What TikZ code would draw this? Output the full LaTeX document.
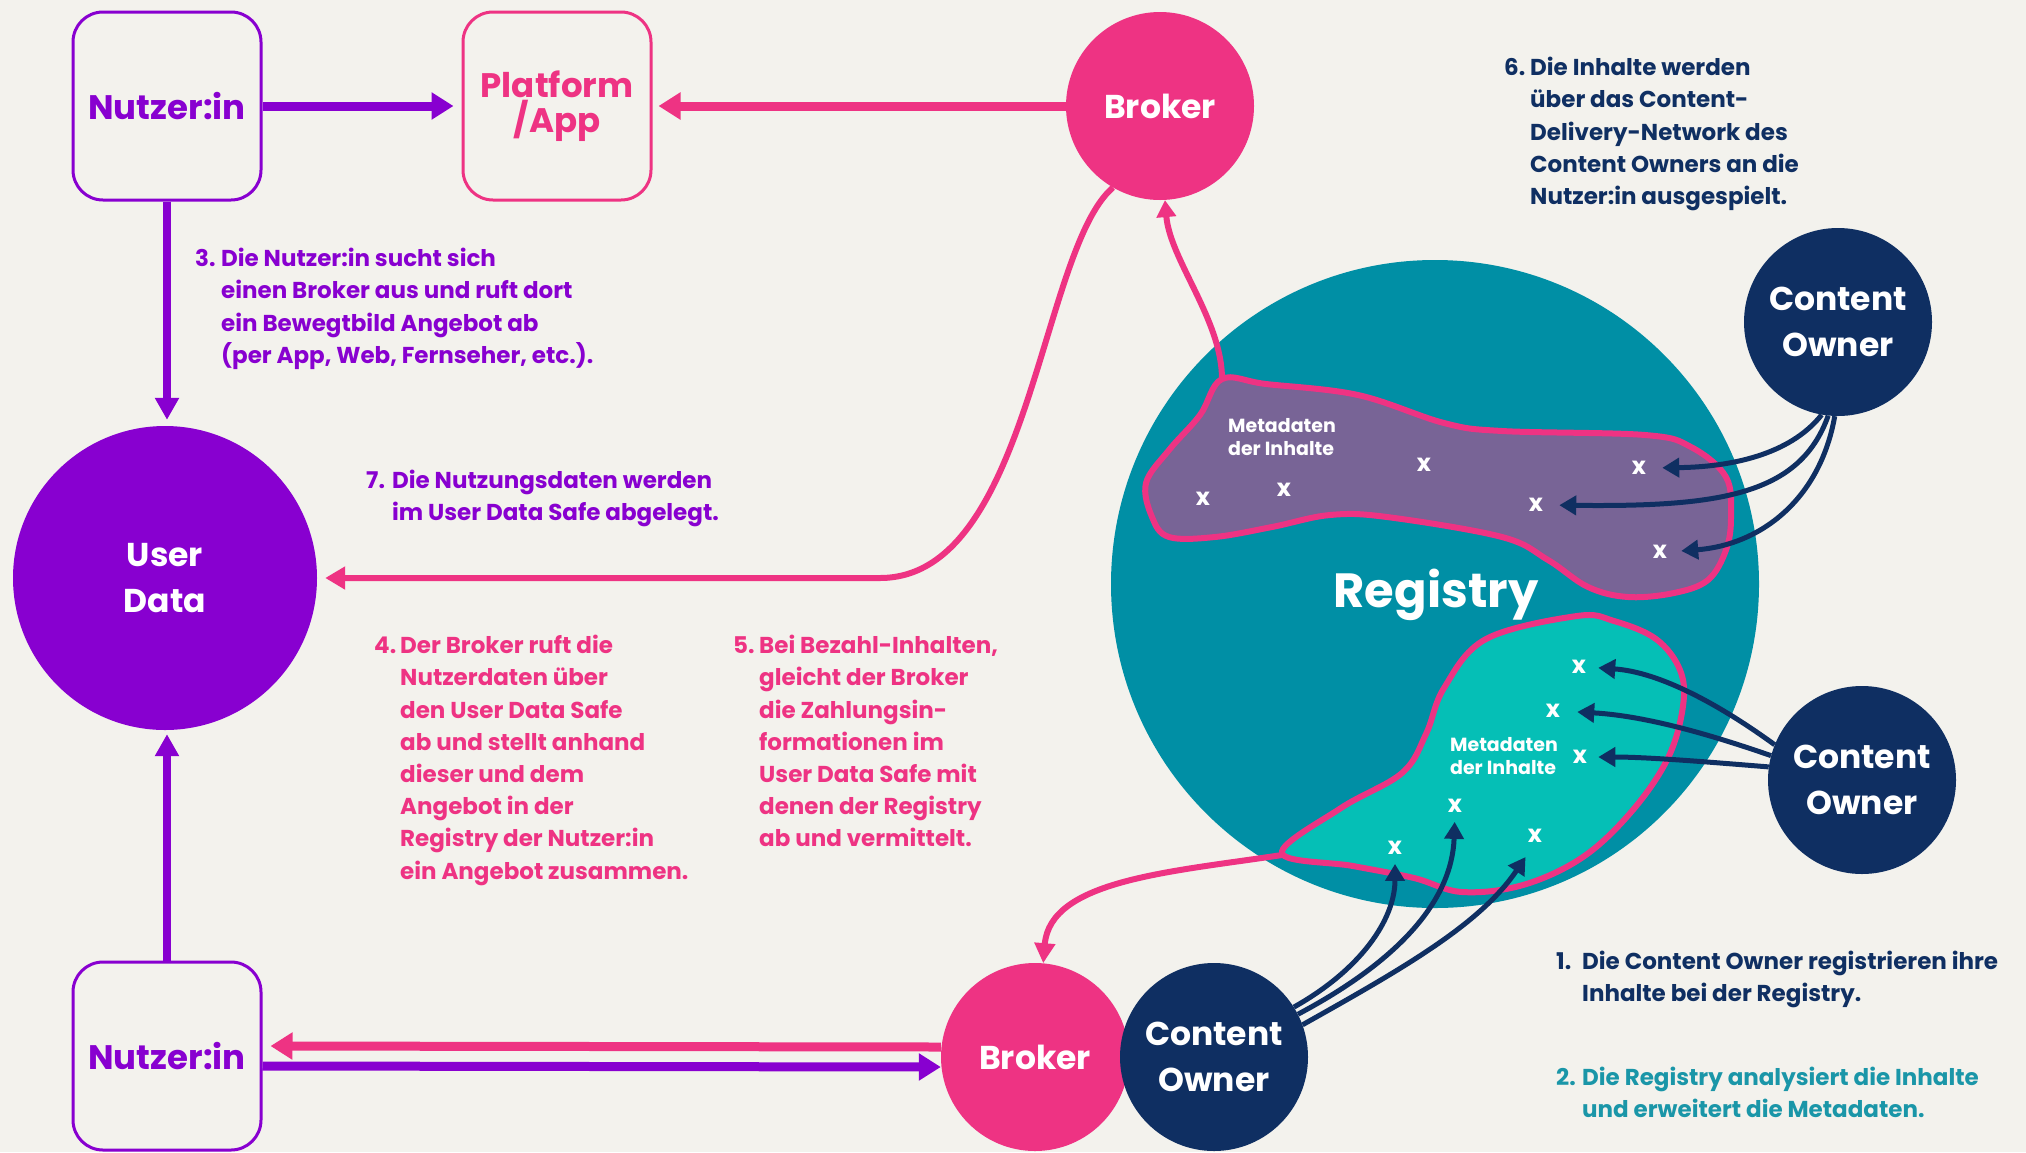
\documentclass[tikz,border=0pt]{standalone}
\usepackage{fontspec}
\setmainfont{Poppins}
\usetikzlibrary{arrows.meta}
\definecolor{bg}{HTML}{F3F2ED}
\definecolor{upurple}{HTML}{8800D0}
\definecolor{upink}{HTML}{EE3383}
\definecolor{unavy}{HTML}{0F2F62}
\definecolor{uteal}{HTML}{008FA5}
\definecolor{ulteal}{HTML}{05BFB6}
\definecolor{ublob}{HTML}{786496}
\definecolor{utealtext}{HTML}{1A96A8}
\newcommand\nr[1]{\makebox[26pt][l]{#1}}
\newcommand\ind{\hspace*{26pt}}
\tikzset{
  box/.style={draw, rounded corners=30pt, line width=3pt, minimum width=188pt, minimum height=188pt,
    inner sep=0pt, align=center, fill=bg, font=\bfseries\fontsize{34}{35}\selectfont},
  disc/.style={circle, inner sep=0pt, minimum size=188pt, text=white, align=center,
    font=\bfseries\fontsize{33}{46}\selectfont},
  para/.style={anchor=north west, inner sep=0pt, align=left, font=\bfseries\fontsize{23}{32.2}\selectfont},
  meta/.style={inner sep=0pt, align=left, text=white, font=\bfseries\fontsize{19}{23}\selectfont},
  xm/.style={inner sep=0pt, text=white, font=\bfseries\fontsize{24}{24}\selectfont},
  blob/.style={draw=upink, line width=6pt},
  harrow/.style={line width=9pt, -{Triangle[length=22pt,width=26pt]}},
  varrow/.style={line width=8pt, draw=upurple, -{Triangle[length=22pt,width=23pt]}},
  pinkcurve/.style={line width=6pt, draw=upink, -{Triangle[length=20pt,width=22pt]}},
  navyarrow/.style={line width=5pt, draw=unavy, -{Triangle[length=17pt,width=19pt]}},
}
\begin{document}
\begin{tikzpicture}[x=1pt,y=-1pt]
\useasboundingbox (0,0) rectangle (2026,1152);
\fill[bg] (0,0) rectangle (2026,1152);

% Registry
\node[circle, fill=uteal, minimum size=648pt, inner sep=0pt] (reg) at (1435,584) {};
\node[inner sep=0pt, text=white, font=\bfseries\fontsize{48}{48}\selectfont] (regt) at (1436,595) {Registry};

% purple metadata blob
\draw[blob, fill=ublob] plot[smooth cycle, tension=0.6] coordinates {
  (1222,379) (1266,384) (1358,395) (1444,423) (1502,431) (1645,435) (1691,447) (1726,477)
  (1731,517) (1726,550) (1708,580) (1674,593) (1628,597) (1588,587) (1548,560)
  (1502,537) (1387,517) (1330,515) (1272,527) (1215,537) (1169,537) (1152,517)
  (1146,483) (1169,450) (1200,415)};
\coordinate (pj) at (1222,379);

% teal metadata blob
\draw[blob, fill=ulteal] plot[smooth cycle, tension=0.6] coordinates {
  (1577,616) (1614,621) (1656,639) (1680,670) (1683,706) (1668,758) (1632,811)
  (1583,857) (1523,885) (1462,892) (1414,878) (1353,866) (1282,853) (1341,808)
  (1402,773) (1426,734) (1444,688) (1486,639)};
\coordinate (tj) at (1282,855);

% metadata labels
\node[meta] (m1) at (1282,437) {Metadaten\\der Inhalte};
\node[meta] (m2) at (1504,756) {Metadaten\\der Inhalte};

% x marks
\node[xm] (p1) at (1203,499) {x};
\node[xm] (p2) at (1284,490) {x};
\node[xm] (p3) at (1424,465) {x};
\node[xm] (p4) at (1639,468) {x};
\node[xm] (p5) at (1536,505) {x};
\node[xm] (p6) at (1660,552) {x};
\node[xm] (q1) at (1579,667) {x};
\node[xm] (q2) at (1553,711) {x};
\node[xm] (q3) at (1580,757) {x};
\node[xm] (q4) at (1455,806) {x};
\node[xm] (q5) at (1395,848) {x};
\node[xm] (q6) at (1535,836) {x};

% boxes and discs
\node[box, draw=upurple, text=upurple] (n1) at (167,106) {Nutzer:in};
\node[box, draw=upink, text=upink] (pa) at (557,106) {Platform\\/App};
\node[disc, fill=upink] (tb) at (1160,106) {Broker};
\node[disc, fill=upurple, minimum size=304pt] (ud) at (165,578) {User\\Data};
\node[box, draw=upurple, text=upurple] (n2) at (167,1056) {Nutzer:in};
\node[disc, fill=upink] (bb) at (1035,1057) {Broker};
\node[disc, fill=unavy] (cb) at (1214,1057) {Content\\Owner};
\node[disc, fill=unavy] (ct) at (1838,322) {Content\\Owner};
\node[disc, fill=unavy] (cr) at (1862,780) {Content\\Owner};

% top arrows
\draw[harrow, draw=upurple, shorten >=8pt] (n1.east) -- (pa.west);
\draw[harrow, draw=upink, shorten >=6pt] (tb.west) -- (pa.east);
\draw[varrow, shorten >=6pt] (n1.south) -- (n1.south |- ud.north);
\draw[varrow, shorten >=4pt] (n2.north) -- (n2.north |- ud.south);

% bottom arrows
\draw[harrow, draw=upink, shorten >=8pt] ([yshift=10pt]bb.west) -- ([yshift=10pt]n2.east);
\draw[harrow, draw=upurple] ([yshift=-10pt]n2.east) -- ([yshift=-10pt]bb.west);

% pink curves
\draw[pinkcurve, shorten >=8pt] (tb.240) .. controls (1040,250) and (1030,578) .. (880,578) -- (ud.east);
\draw[line width=6pt, draw=upink, -{Triangle[length=17pt,width=19pt]}] (pj) .. controls (1222,320) and (1170,260) .. (tb.-87);
\draw[line width=6pt, draw=upink, -{Triangle[length=20pt,width=20pt]}] (tj) .. controls (1170,872) and (1050,880) .. (bb.85);

% navy arrows from top-right owner
\draw[navyarrow, shorten >=16pt] (ct.260) .. controls (1790,455) and (1730,467) .. (p4.east);
\draw[navyarrow, shorten >=16pt] (ct.264) .. controls (1800,495) and (1720,507) .. (p5.east);
\draw[navyarrow, shorten >=14pt] (ct.268) .. controls (1820,500) and (1760,545) .. (p6.east);

% navy arrows from right owner
\draw[navyarrow, shorten >=12pt] (cr.158) .. controls (1720,705) and (1660,672) .. (q1.east);
\draw[navyarrow, shorten >=17pt] (cr.165) .. controls (1720,738) and (1650,716) .. (q2.east);
\draw[navyarrow, shorten >=11pt] (cr.172) .. controls (1720,763) and (1650,757) .. (q3.east);

% navy arrows from bottom owner
\draw[navyarrow, shorten >=9pt] (cb.32) .. controls (1360,970) and (1395,920) .. (q5.south);
\draw[navyarrow, shorten >=9pt] (cb.27) .. controls (1400,960) and (1452,900) .. (q4.south);
\draw[navyarrow, shorten >=17pt] (cb.20) .. controls (1400,970) and (1480,925) .. (q6.south);

% texts
\node[para, text=upurple] (t3) at (195,248) {\nr{3.}Die Nutzer:in sucht sich\\\ind einen Broker aus und ruft dort\\\ind ein Bewegtbild Angebot ab\\\ind (per App, Web, Fernseher, etc.).};
\node[para, text=upurple] (t7) at (366,470) {\nr{7.}Die Nutzungsdaten werden\\\ind im User Data Safe abgelegt.};
\node[para, text=upink] (t4) at (374,635) {\nr{4.}Der Broker ruft die\\\ind Nutzerdaten über\\\ind den User Data Safe\\\ind ab und stellt anhand\\\ind dieser und dem\\\ind Angebot in der\\\ind Registry der Nutzer:in\\\ind ein Angebot zusammen.};
\node[para, text=upink] (t5) at (733,635) {\nr{5.}Bei Bezahl-Inhalten,\\\ind gleicht der Broker\\\ind die Zahlungsin-\\\ind formationen im\\\ind User Data Safe mit\\\ind denen der Registry\\\ind ab und vermittelt.};
\node[para, text=unavy] (t6) at (1504,57) {\nr{6.}Die Inhalte werden\\\ind über das Content-\\\ind Delivery-Network des\\\ind Content Owners an die\\\ind Nutzer:in ausgespielt.};
\node[para, text=unavy] (t1) at (1556,951) {\nr{1.}Die Content Owner registrieren ihre\\\ind Inhalte bei der Registry.};
\node[para, text=utealtext] (t2) at (1556,1067) {\nr{2.}Die Registry analysiert die Inhalte\\\ind und erweitert die Metadaten.};
\end{tikzpicture}
\end{document}
